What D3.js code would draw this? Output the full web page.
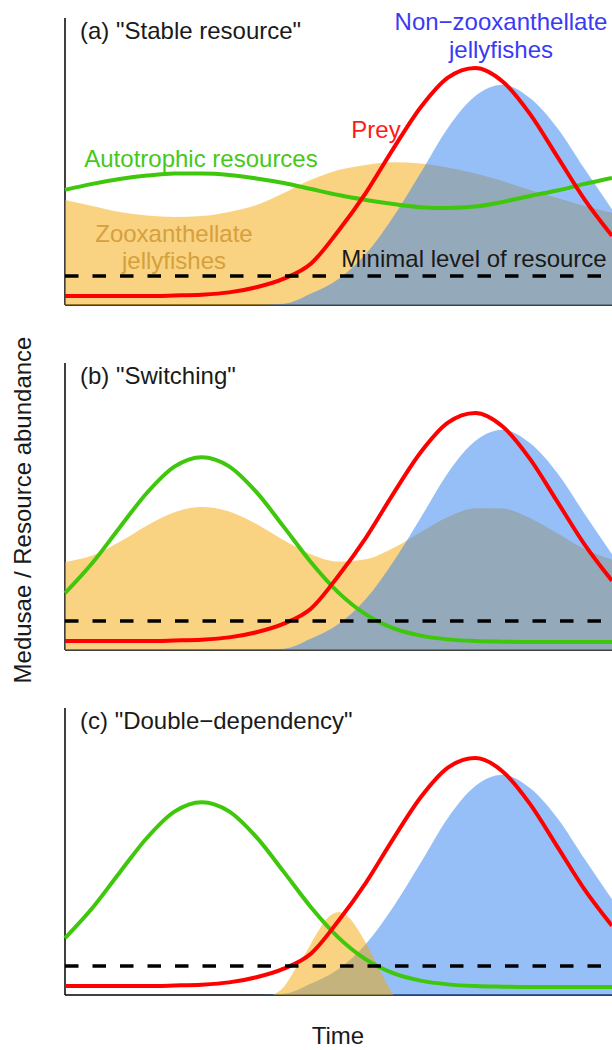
<!DOCTYPE html>
<html>
<head>
<meta charset="utf-8">
<script src="https://cdn.jsdelivr.net/npm/d3@7"></script>
<style>
  html, body { margin: 0; padding: 0; background: #fff; }
  svg { display: block; }
  text { font-family: "Liberation Sans", Arial, Helvetica, sans-serif; font-size: 24px; }
</style>
</head>
<body>
<svg id="chart" width="612" height="1050"></svg>
<script>
// ---- data (abundance in arbitrary units 0-100, time 0-100) ----
const time = [0,5,10,15,20,25,30,35,40,45,50,55,60,65,70,75,80,85,90,95,100];

// Prey (same in all three scenarios)
const prey = [3.1,3.1,3.1,3.1,3.3,3.6,4.4,6.2,9.2,14.5,25.9,39.1,54.4,68.8,79.2,82.6,77.9,66.6,51.7,36.7,24.1];

// Non-zooxanthellate jellyfishes (same in all three scenarios)
const nonZoox = [0,0,0,0,0,0,0,0,0.4,4.0,9.1,17.8,30.7,46.0,61.7,72.8,76.7,72.1,61.7,47.4,33.4];

// (a) Stable resource
const autoA = [40.1,42.2,43.9,45.1,45.8,45.8,45.3,44.1,42.5,40.4,38.3,36.6,35.2,34.1,33.8,34.3,35.9,38.0,39.9,42.2,44.3];
const zooxA = [36.6,34.5,32.4,31.2,30.7,31.0,32.4,34.8,39.0,43.6,47.0,48.8,49.7,49.3,47.9,45.8,43.2,40.1,37.3,34.5,32.1];

// (b) Switching and (c) Double-dependency: autotrophic pulse
const autoBC = [19.8,30.3,42.7,54.8,63.9,67.2,64.0,55.0,42.9,30.5,20.0,12.4,7.6,5.0,3.7,3.1,2.9,2.8,2.8,2.8,2.8];
const zooxB = [30.7,32.9,37.7,43.4,48.0,49.8,48.3,43.9,38.2,33.3,30.8,31.6,35.5,41.0,46.3,49.4,49.3,46.0,40.7,35.2,31.5];

// (c) zooxanthellate short bloom
const timeC = [38,40,42,44,46,48,50,52,54,56,58,60];
const zooxC = [0,2.8,8.7,14.6,21.3,26.8,28.9,26.8,21.3,14.6,7.0,0];

const minimalLevel = 10.1;

const panelTitles = ['(a) "Stable resource"', '(b) "Switching"', '(c) "Double\u2212dependency"'];

// ---- drawing ----
const svg = d3.select("#chart");
const W = 612, H = 1050;
svg.append("rect").attr("width", W).attr("height", H).attr("fill", "#fff");

const x = d3.scaleLinear().domain([0, 100]).range([65, 612]);
const panelTops = [18, 363, 708];
const panelH = 287;

const colBlue = "rgba(47,127,239,0.5)";
const colOrange = "rgba(243,167,5,0.5)";
const colGreen = "#3ec70b";
const colRed = "#ff0000";

const zip = (ts, vs) => ts.map((t, i) => ({t: t, v: vs[i]}));

const panels = [
  {auto: autoA, zoox: zip(time, zooxA), blueOnTop: true},
  {auto: autoBC, zoox: zip(time, zooxB), blueOnTop: true},
  {auto: autoBC, zoox: zip(timeC, zooxC), blueOnTop: false}
];

panels.forEach((p, k) => {
  const top = panelTops[k];
  const y = d3.scaleLinear().domain([0, 100]).range([top + panelH, top]);
  const g = svg.append("g");

  // axes (L-shaped, no ticks)
  g.append("line").attr("x1", x(0)).attr("x2", x(0)).attr("y1", y(100)).attr("y2", y(0))
    .attr("stroke", "#000").attr("stroke-width", 1.5);
  g.append("line").attr("x1", x(0)).attr("x2", x(100)).attr("y1", y(0)).attr("y2", y(0))
    .attr("stroke", "#000").attr("stroke-width", 1.5);

  const area = d3.area().x(d => x(d.t)).y0(y(0)).y1(d => y(d.v)).curve(d3.curveMonotoneX);
  const line = d3.line().x(d => x(d.t)).y(d => y(d.v)).curve(d3.curveMonotoneX);

  const blueData = zip(time, nonZoox);
  const drawBlue = () => g.append("path").attr("d", area(blueData)).attr("fill", colBlue);
  const drawOrange = () => g.append("path").attr("d", area(p.zoox)).attr("fill", colOrange);
  if (p.blueOnTop) { drawOrange(); drawBlue(); } else { drawBlue(); drawOrange(); }

  g.append("path").attr("d", line(zip(time, p.auto))).attr("fill", "none")
    .attr("stroke", colGreen).attr("stroke-width", 4);
  g.append("path").attr("d", line(zip(time, prey))).attr("fill", "none")
    .attr("stroke", colRed).attr("stroke-width", 4);

  g.append("line").attr("x1", x(0)).attr("x2", x(100)).attr("y1", y(minimalLevel)).attr("y2", y(minimalLevel))
    .attr("stroke", "#000").attr("stroke-width", 3.6).attr("stroke-dasharray", "13.5,14");

  g.append("text").attr("x", 80).attr("y", top + 21).attr("fill", "#1a1a1a").text(panelTitles[k]);

  if (k === 0) {
    const lab = (txt, cx, cy, col) => g.append("text").attr("x", cx).attr("y", cy)
      .attr("text-anchor", "middle").attr("fill", col).text(txt);
    lab("Non\u2212zooxanthellate", 501, 30, "#3a3af5");
    lab("jellyfishes", 501, 58, "#3a3af5");
    lab("Prey", 376, 138, "#ff1a1a");
    lab("Autotrophic resources", 201, 167, "#46c81a");
    lab("Zooxanthellate", 174, 242, "#d6a03c");
    lab("jellyfishes", 174, 269, "#d6a03c");
    lab("Minimal level of resource", 474, 267, "#1a1a1a");
  }
});

svg.append("text").attr("x", 338).attr("y", 1044).attr("text-anchor", "middle")
  .attr("fill", "#1a1a1a").text("Time");
svg.append("text").attr("transform", "translate(31,510) rotate(-90)").attr("text-anchor", "middle")
  .attr("fill", "#1a1a1a").text("Medusae / Resource abundance");
</script>
</body>
</html>
